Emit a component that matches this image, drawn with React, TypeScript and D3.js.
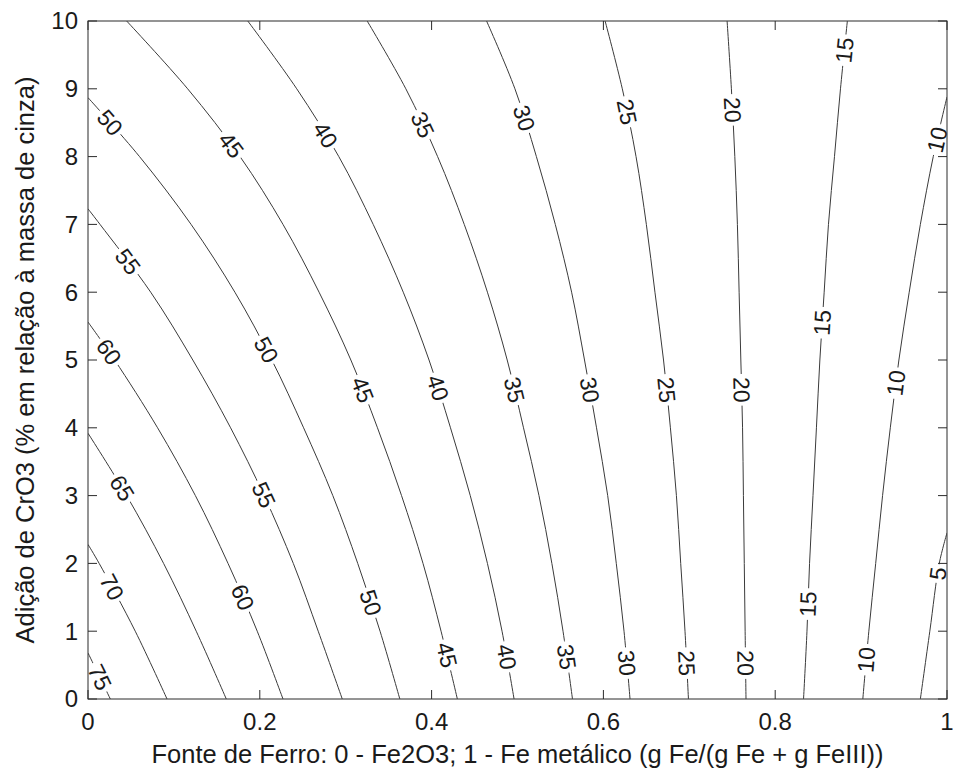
import React from 'react';
import * as d3 from 'd3';

// Canvas and plot frame
const W = 953;
const H = 774;
const PLOT = { left: 88, right: 947, top: 21, bottom: 699 };

// Axis ticks
const xTicks = [0, 0.2, 0.4, 0.6, 0.8, 1];
const xTickLabels = ['0', '0.2', '0.4', '0.6', '0.8', '1'];
const yTicks = [0, 1, 2, 3, 4, 5, 6, 7, 8, 9, 10];
const yTickLabels = ['0', '1', '2', '3', '4', '5', '6', '7', '8', '9', '10'];

const xLabel = 'Fonte de Ferro: 0 - Fe2O3; 1 - Fe metálico (g Fe/(g Fe + g FeIII))';
const yLabel = 'Adição de CrO3 (% em relação à massa de cinza)';

// Contour levels and their traced iso-lines, as [fonte de ferro, CrO3 %]
const contourLevels = [75, 70, 65, 60, 55, 50, 45, 40, 35, 30, 25, 20, 15, 10, 5];

const c75: [number, number][] = [[0, 0.68], [0.013, 0.34], [0.026, 0]];
const c70: [number, number][] = [[0, 2.28], [0.013, 2], [0.055, 1], [0.092, 0]];
const c65: [number, number][] = [[0, 3.92], [0.045, 3], [0.088, 2], [0.126, 1], [0.161, 0]];
const c60: [number, number][] = [[0, 5.56], [0.031, 5], [0.081, 4], [0.125, 3], [0.163, 2], [0.197, 1], [0.227, 0]];
const c55: [number, number][] = [[0, 7.23], [0.014, 7], [0.073, 6], [0.122, 5], [0.166, 4], [0.205, 3], [0.239, 2], [0.268, 1], [0.296, 0]];
const c50: [number, number][] = [[0, 8.87], [0.06, 8], [0.12, 7], [0.171, 6], [0.214, 5], [0.251, 4], [0.285, 3], [0.314, 2], [0.34, 1], [0.363, 0]];
const c45: [number, number][] = [[0.045, 10], [0.116, 9], [0.177, 8], [0.227, 7], [0.269, 6], [0.306, 5], [0.337, 4], [0.365, 3], [0.39, 2], [0.411, 1], [0.43, 0]];
const c40: [number, number][] = [[0.186, 10], [0.243, 9], [0.292, 8], [0.332, 7], [0.367, 6], [0.397, 5], [0.422, 4], [0.445, 3], [0.465, 2], [0.482, 1], [0.496, 0]];
const c35: [number, number][] = [[0.325, 10], [0.37, 9], [0.407, 8], [0.438, 7], [0.465, 6], [0.488, 5], [0.507, 4], [0.525, 3], [0.54, 2], [0.553, 1], [0.564, 0]];
const c30: [number, number][] = [[0.464, 10], [0.497, 9], [0.522, 8], [0.544, 7], [0.563, 6], [0.578, 5], [0.592, 4], [0.605, 3], [0.615, 2], [0.624, 1], [0.631, 0]];
const c25: [number, number][] = [[0.602, 10], [0.622, 9], [0.638, 8], [0.65, 7], [0.66, 6], [0.67, 5], [0.678, 4], [0.685, 3], [0.69, 2], [0.695, 1], [0.699, 0]];
const c20: [number, number][] = [[0.744, 10], [0.749, 9], [0.753, 8], [0.756, 7], [0.758, 6], [0.76, 5], [0.762, 4], [0.763, 3], [0.764, 2], [0.765, 1], [0.766, 0]];
const c15: [number, number][] = [[0.884, 10], [0.876, 9], [0.869, 8], [0.862, 7], [0.857, 6], [0.852, 5], [0.848, 4], [0.844, 3], [0.84, 2], [0.837, 1], [0.833, 0]];
const c10: [number, number][] = [[1, 8.88], [0.984, 8], [0.969, 7], [0.956, 6], [0.944, 5], [0.934, 4], [0.925, 3], [0.917, 2], [0.909, 1], [0.902, 0]];
const c5: [number, number][] = [[1, 2.45], [0.991, 2], [0.98, 1], [0.969, 0]];

// Heights (CrO3 %) where each line carries an inline value label
const lab75 = [0.32];
const lab70 = [1.65];
const lab65 = [3.11];
const lab60 = [5.12, 1.5];
const lab55 = [6.45, 3.01];
const lab50 = [8.5, 5.15, 1.42];
const lab45 = [8.17, 4.56, 0.65];
const lab40 = [8.32, 4.59, 0.62];
const lab35 = [8.47, 4.56, 0.62];
const lab30 = [8.57, 4.56, 0.53];
const lab25 = [8.66, 4.56, 0.53];
const lab20 = [8.69, 4.56, 0.53];
const lab15 = [9.57, 5.55, 1.4];
const lab10 = [8.25, 4.66, 0.58];
const lab5 = [1.85];

const contourLines = [c75, c70, c65, c60, c55, c50, c45, c40, c35, c30, c25, c20, c15, c10, c5];
const contourLabelYs = [lab75, lab70, lab65, lab60, lab55, lab50, lab45, lab40, lab35, lab30, lab25, lab20, lab15, lab10, lab5];

const FONT = '"Liberation Sans", Arial, Helvetica, sans-serif';
const TICK_FS = 24;
const LABEL_FS = 25.5;
const CONTOUR_FS = 23;
const INK = '#1a1a1a';
const LINE = '#3a3a3a';

const xs = d3.scaleLinear().domain([0, 1]).range([PLOT.left, PLOT.right]);
const ys = d3.scaleLinear().domain([0, 10]).range([PLOT.bottom, PLOT.top]);

const lineGen = d3
  .line<[number, number]>()
  .x((d) => xs(d[0]))
  .y((d) => ys(d[1]))
  .curve(d3.curveCatmullRom.alpha(0.5));

// x on a traced line at a given height (lines are single-valued in y)
function xAtY(points: [number, number][], y: number): number {
  for (let i = 0; i < points.length - 1; i++) {
    const [x0, y0] = points[i];
    const [x1, y1] = points[i + 1];
    if ((y - y0) * (y - y1) <= 0) {
      const t = y1 === y0 ? 0 : (y - y0) / (y1 - y0);
      return x0 + t * (x1 - x0);
    }
  }
  return points[points.length - 1][0];
}

type Placed = { text: string; cx: number; cy: number; angle: number; w: number };

function placeLabels(): Placed[] {
  const out: Placed[] = [];
  contourLines.forEach((pts, i) => {
    const level = contourLevels[i];
    const yMin = d3.min(pts, (d) => d[1]) as number;
    const yMax = d3.max(pts, (d) => d[1]) as number;
    contourLabelYs[i].forEach((ly) => {
      const d = 0.15;
      const yTop = Math.min(yMax, ly + d);
      const yBot = Math.max(yMin, ly - d);
      const ax = xs(xAtY(pts, yTop));
      const ay = ys(yTop);
      const bx = xs(xAtY(pts, yBot));
      const by = ys(yBot);
      let angle = (Math.atan2(by - ay, bx - ax) * 180) / Math.PI;
      if (angle > 90) angle -= 180;
      if (angle <= -90) angle += 180;
      const text = String(level);
      out.push({
        text,
        cx: xs(xAtY(pts, ly)),
        cy: ys(ly),
        angle,
        w: text.length * 0.556 * CONTOUR_FS,
      });
    });
  });
  return out;
}

export default function App() {
  const labels = placeLabels();
  const tickLen = 9;

  return (
    <svg
      width={W}
      height={H}
      viewBox={`0 0 ${W} ${H}`}
      style={{ position: 'absolute', left: 0, top: 0, background: '#fff' }}
      fontFamily={FONT}
    >
      <defs>
        <clipPath id="plot-clip">
          <rect x={PLOT.left} y={PLOT.top} width={PLOT.right - PLOT.left} height={PLOT.bottom - PLOT.top} />
        </clipPath>
        <mask id="label-gaps" maskUnits="userSpaceOnUse" x={0} y={0} width={W} height={H}>
          <rect x={0} y={0} width={W} height={H} fill="#fff" />
          {labels.map((l, i) => (
            <rect
              key={i}
              x={-(l.w / 2 + 3)}
              y={-8}
              width={l.w + 6}
              height={16}
              fill="#000"
              transform={`translate(${l.cx},${l.cy}) rotate(${l.angle})`}
            />
          ))}
        </mask>
      </defs>

      <rect x={0} y={0} width={W} height={H} fill="#fff" />

      {/* iso-lines */}
      <g clipPath="url(#plot-clip)">
        <g mask="url(#label-gaps)">
          {contourLines.map((pts, i) => (
            <path key={contourLevels[i]} d={lineGen(pts) || ''} fill="none" stroke={LINE} strokeWidth={1} />
          ))}
        </g>
      </g>

      {/* inline level labels */}
      <g fontSize={CONTOUR_FS} fill={INK}>
        {labels.map((l, i) => (
          <text
            key={i}
            transform={`translate(${l.cx},${l.cy}) rotate(${l.angle})`}
            textAnchor="middle"
            dy="0.35em"
          >
            {l.text}
          </text>
        ))}
      </g>

      {/* frame */}
      <rect
        x={PLOT.left}
        y={PLOT.top}
        width={PLOT.right - PLOT.left}
        height={PLOT.bottom - PLOT.top}
        fill="none"
        stroke="#2a2a2a"
        strokeWidth={1}
      />

      {/* inward ticks on all four sides */}
      <g stroke="#2a2a2a" strokeWidth={1}>
        {xTicks.map((t) => (
          <g key={`xt${t}`}>
            <line x1={xs(t)} x2={xs(t)} y1={PLOT.bottom} y2={PLOT.bottom - tickLen} />
            <line x1={xs(t)} x2={xs(t)} y1={PLOT.top} y2={PLOT.top + tickLen} />
          </g>
        ))}
        {yTicks.map((t) => (
          <g key={`yt${t}`}>
            <line x1={PLOT.left} x2={PLOT.left + tickLen} y1={ys(t)} y2={ys(t)} />
            <line x1={PLOT.right} x2={PLOT.right - tickLen} y1={ys(t)} y2={ys(t)} />
          </g>
        ))}
      </g>

      {/* tick labels */}
      <g fontSize={TICK_FS} fill={INK}>
        {xTicks.map((t, i) => (
          <text key={`xl${t}`} x={xs(t)} y={730} textAnchor="middle">
            {xTickLabels[i]}
          </text>
        ))}
        {yTicks.map((t, i) => (
          <text key={`yl${t}`} x={78} y={ys(t)} dy="0.35em" textAnchor="end">
            {yTickLabels[i]}
          </text>
        ))}
      </g>

      {/* axis titles */}
      <text x={(PLOT.left + PLOT.right) / 2} y={763} textAnchor="middle" fontSize={LABEL_FS} fill={INK}>
        {xLabel}
      </text>
      <text
        transform={`translate(34,${(PLOT.top + PLOT.bottom) / 2}) rotate(-90)`}
        textAnchor="middle"
        fontSize={LABEL_FS}
        fill={INK}
      >
        {yLabel}
      </text>
    </svg>
  );
}
